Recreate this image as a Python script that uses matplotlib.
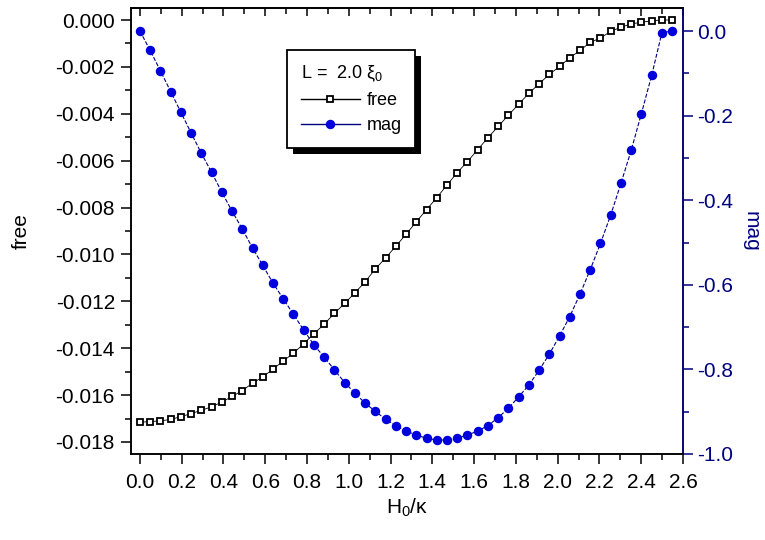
import matplotlib
matplotlib.use("Agg")
import matplotlib.pyplot as plt
import matplotlib.patheffects as pe
from matplotlib.ticker import MultipleLocator, FuncFormatter

# H0/kappa grid (53 points)
h_kappa = [0.000, 0.049, 0.098, 0.147, 0.196, 0.245, 0.294, 0.343, 0.392, 0.441,
           0.490, 0.539, 0.588, 0.637, 0.686, 0.735, 0.784, 0.833, 0.882, 0.931,
           0.980, 1.029, 1.078, 1.127, 1.176, 1.225, 1.274, 1.323, 1.372, 1.421,
           1.470, 1.519, 1.568, 1.617, 1.666, 1.715, 1.764, 1.813, 1.862, 1.911,
           1.960, 2.009, 2.058, 2.107, 2.156, 2.205, 2.254, 2.303, 2.352, 2.401,
           2.450, 2.499, 2.548]

# free energy (left axis)
free = [-0.01716, -0.01713, -0.01710, -0.01704, -0.01692, -0.01679, -0.01665, -0.01650,
        -0.01630, -0.01606, -0.01581, -0.01549, -0.01523, -0.01489, -0.01455, -0.01421,
        -0.01381, -0.01338, -0.01298, -0.01251, -0.01209, -0.01164, -0.01117, -0.01062,
        -0.01015, -0.00965, -0.00914, -0.00861, -0.00809, -0.00758, -0.00704, -0.00651,
        -0.00604, -0.00553, -0.00502, -0.00454, -0.00406, -0.00359, -0.00313, -0.00272,
        -0.00232, -0.00198, -0.00161, -0.00130, -0.00095, -0.00077, -0.00048, -0.00031,
        -0.00016, -0.00010, -0.00003, 0.00000, 0.00000]

# magnetization (right axis)
mag = [0.000, -0.046, -0.094, -0.143, -0.192, -0.241, -0.289, -0.334, -0.381, -0.426,
       -0.468, -0.513, -0.554, -0.596, -0.633, -0.670, -0.707, -0.742, -0.771, -0.801,
       -0.831, -0.856, -0.880, -0.899, -0.918, -0.933, -0.946, -0.955, -0.963, -0.967,
       -0.967, -0.963, -0.955, -0.946, -0.933, -0.914, -0.892, -0.865, -0.837, -0.802,
       -0.764, -0.721, -0.675, -0.622, -0.564, -0.502, -0.435, -0.360, -0.282, -0.195,
       -0.105, -0.004, 0.000]

legend_title = "L =  2.0 ξ$_0$"

navy = "#000080"
blue = "#0000dd"


def fmt(decimals):
    # avoid "-0.000" from floating point noise
    return FuncFormatter(lambda v, p: f"{0.0 if abs(v) < 1e-9 else v:.{decimals}f}")


plt.rcParams["font.family"] = ["Liberation Sans", "DejaVu Sans"]
plt.rcParams["mathtext.default"] = "regular"
plt.rcParams["axes.unicode_minus"] = False

fig = plt.figure(figsize=(7.65, 5.4), dpi=100)
ax = fig.add_axes([0.1712, 0.1593, 0.7216, 0.8259])
ax2 = ax.twinx()

l_free, = ax.plot(h_kappa, free, color="black", lw=0.6, marker="s", ms=5,
                  mfc="white", mec="black", mew=1.3, label="free")
l_mag, = ax2.plot(h_kappa, mag, color=navy, lw=0.8, ls="--", marker="o", ms=5.8,
                  mfc=blue, mec=blue, label="mag")

ax.set_xlim(-0.043, 2.6)
ax.set_ylim(-0.018513, 0.000513)
ax2.set_ylim(-1.0, 0.0545)

ax.xaxis.set_major_locator(MultipleLocator(0.2))
ax.xaxis.set_minor_locator(MultipleLocator(0.1))
ax.xaxis.set_major_formatter(fmt(1))
ax.yaxis.set_major_locator(MultipleLocator(0.002))
ax.yaxis.set_minor_locator(MultipleLocator(0.001))
ax.yaxis.set_major_formatter(fmt(3))
ax2.yaxis.set_major_locator(MultipleLocator(0.2))
ax2.yaxis.set_minor_locator(MultipleLocator(0.1))
ax2.yaxis.set_major_formatter(fmt(1))

ax.tick_params(axis="both", which="major", direction="out", length=7, width=1.1,
               labelsize=15)
ax.tick_params(axis="both", which="minor", direction="out", length=4.5, width=1.1)
ax.tick_params(axis="x", which="major", pad=7)
ax.tick_params(axis="y", which="major", pad=4.5)
ax2.tick_params(axis="y", which="major", direction="out", length=7, width=1.1,
                labelsize=15, pad=3, colors=navy)
ax2.tick_params(axis="y", which="minor", direction="out", length=4.5, width=1.1,
                colors=navy)

# inward ticks along the top edge
top = ax.secondary_xaxis("top")
top.xaxis.set_major_locator(MultipleLocator(0.2))
top.xaxis.set_minor_locator(MultipleLocator(0.1))
top.tick_params(which="major", direction="in", length=6, width=1.1, labeltop=False)
top.tick_params(which="minor", direction="in", length=4, width=1.1)
top.spines["top"].set_linewidth(1.1)

for s in ax.spines.values():
    s.set_linewidth(1.1)
for s in ax2.spines.values():
    s.set_linewidth(1.1)
ax2.spines["right"].set_color(navy)

ax.set_xlabel("H$_0$/κ", fontsize=15, labelpad=3)
ax.set_ylabel("free", fontsize=15, labelpad=18)
ax2.set_ylabel("mag", fontsize=15, color=navy, rotation=270, labelpad=20)

leg = ax2.legend(handles=[l_free, l_mag], title=legend_title, loc="upper left",
                 bbox_to_anchor=(0.2826, 0.9058), borderaxespad=0, fontsize=13,
                 title_fontsize=13, fancybox=False, framealpha=1, edgecolor="black",
                 handlelength=3.3, handletextpad=0.35, borderpad=0.75, labelspacing=0.45)
leg._legend_box.align = "left"
leg.get_frame().set_linewidth(1.3)
leg.legendPatch.set_path_effects([
    pe.SimplePatchShadow(offset=(4.3, -4.3), shadow_rgbFace="black", alpha=1),
    pe.Normal()])
for h in leg.legend_handles:
    h.set_linestyle("-")
    h.set_linewidth(1.0)

fig.savefig("out.png", dpi=100, facecolor="white")
